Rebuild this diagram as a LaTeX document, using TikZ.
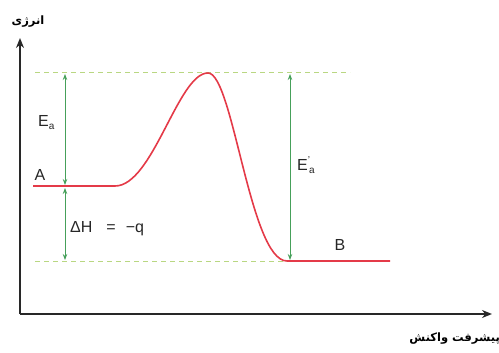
\documentclass[tikz,border=0pt]{standalone}
\usepackage{fontspec}
\setmainfont{Liberation Sans}
\newfontfamily\arabicfont[Script=Arabic]{DejaVu Sans}
\TeXXeTstate=1
\usetikzlibrary{arrows.meta}
\definecolor{curvered}{RGB}{228,58,72}
\definecolor{arrgreen}{RGB}{70,160,90}
\definecolor{dashgreen}{RGB}{185,215,130}
\definecolor{axisgray}{RGB}{40,40,40}
\newcommand{\subsc}[1]{\raisebox{-0.35ex}{\fontsize{10}{10}\selectfont #1}}
\tikzset{
  axisline/.style={draw=axisgray,line width=2.2pt,-{Stealth[length=10pt,width=8pt]}},
  levelline/.style={draw=dashgreen,line width=1pt,dash pattern=on 5pt off 4pt},
  dimarrow/.style={draw=arrgreen,line width=0.9pt,{Stealth[length=6pt,width=4.5pt]}-{Stealth[length=6pt,width=4.5pt]}},
  lbl/.style={inner sep=0pt,font=\fontsize{16}{18}\selectfont,text=black!85},
  fa/.style={inner sep=0pt,font=\arabicfont\bfseries\fontsize{11.5}{13}\selectfont}
}
\begin{document}
\begin{tikzpicture}[x=1pt,y=-1pt]
\useasboundingbox (0,0) rectangle (499,353);
% axes
\coordinate (O) at (20,314);
\coordinate (Ytop) at (20,38);
\coordinate (Xend) at (492,314);
\draw[axisline] (O) -- (Ytop);
\draw[axisline] (O) -- (Xend);
% level lines
\coordinate (T1) at (35,73);
\coordinate (T2) at (350,73);
\coordinate (B1) at (35,261);
\coordinate (B2) at (390,261);
\draw[levelline] (T1) -- (T2);
\draw[levelline] (B1) -- (B2);
% dimension arrows
\coordinate (EaTop) at (65,74);
\coordinate (EaBot) at (65,185);
\coordinate (HTop) at (65,188);
\coordinate (HBot) at (65,260);
\coordinate (EbTop) at (290,74);
\coordinate (EbBot) at (290,260);
\draw[dimarrow] (EaTop) -- (EaBot);
\draw[dimarrow] (HTop) -- (HBot);
\draw[dimarrow] (EbTop) -- (EbBot);
% curve
\coordinate (C0) at (33,186);
\coordinate (C1) at (115,186);
\coordinate (Peak) at (208,73);
\coordinate (C2) at (287,261);
\coordinate (C3) at (390,261);
\draw[curvered,line width=1.6pt] (C0) -- (C1)
  .. controls (153,186) and (178,73) .. (Peak)
  .. controls (233,73) and (250,261) .. (C2) -- (C3);
% labels
\node[lbl,anchor=west] (Ea) at (38,123) {E\subsc{a}};
\node[lbl] (A) at (40,175) {A};
\node[lbl,anchor=west] (dH) at (70,229) {ΔH\hspace{14pt}=\hspace{10pt}−q};
\node[lbl,anchor=west] (Eb) at (297,165) {E\raisebox{0.9ex}{\fontsize{10}{10}\selectfont\char"2019}\hspace{-1pt}\subsc{a}};
\node[lbl] (B) at (340,245) {B};
\node[fa] (ylab) at (28,22) {\beginR انرژی\endR};
\node[fa,anchor=east] (xlab) at (500,339) {\beginR پیشرفت واکنش\endR};
\end{tikzpicture}
\end{document}
